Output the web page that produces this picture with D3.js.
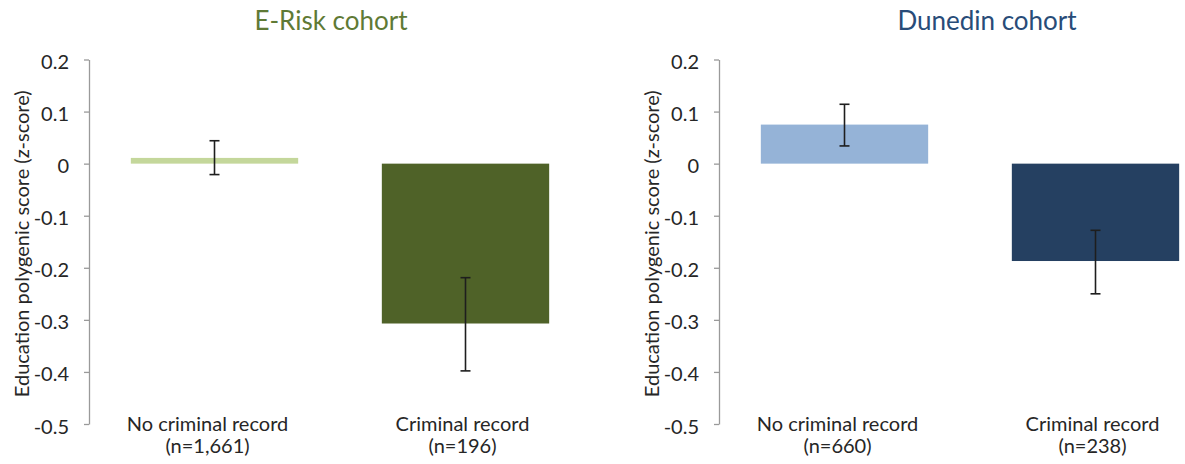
<!DOCTYPE html>
<html><head><meta charset="utf-8">
<script src="https://cdn.jsdelivr.net/npm/d3@7"></script>
<style>
body{margin:0;background:#fff}
svg{display:block}
text{font-family:Lato,"Open Sans",sans-serif}
</style>
</head><body>
<svg id="c" width="1185" height="464"></svg>
<script>
// ---- data ----
const categories = ["No criminal record", "Criminal record"];
const eriskN = ["(n=1,661)", "(n=196)"];
const dunedinN = ["(n=660)", "(n=238)"];
const eriskMean = [0.011, -0.307];
const eriskLower = [-0.021, -0.398];
const eriskUpper = [0.044, -0.219];
const dunedinMean = [0.075, -0.187];
const dunedinLower = [0.034, -0.250];
const dunedinUpper = [0.114, -0.128];
const yTicks = [0.2, 0.1, 0, -0.1, -0.2, -0.3, -0.4, -0.5];
const titles = ["E-Risk cohort", "Dunedin cohort"];
const yLabel = "Education polygenic score (z-score)";

// ---- layout ----
const svg = d3.select("#c");
const panels = [
  {title: titles[0], n: eriskN, mean: eriskMean, lo: eriskLower, hi: eriskUpper,
   axisX: 89, endX: 591, titleX: 331, labelX: 21,
   colors: ["#c4d79b", "#4f6228"], titleColor: "#5f7a35"},
  {title: titles[1], n: dunedinN, mean: dunedinMean, lo: dunedinLower, hi: dunedinUpper,
   axisX: 719, endX: 1221, titleX: 987, labelX: 651,
   colors: ["#95b3d7", "#254061"], titleColor: "#284c78"}
];

const y = d3.scaleLinear().domain([-0.5, 0.2]).range([424, 59.5]);
const fmt = d => Math.abs(d) < 1e-9 ? "0" : d.toFixed(1);

panels.forEach(p => {
  const g = svg.append("g");
  const x = d3.scaleBand().domain(categories).range([p.axisX, p.endX])
    .paddingInner(1/3).paddingOuter(1/6);

  // title
  g.append("text").attr("x", p.titleX).attr("y", 30)
    .attr("text-anchor", "middle").attr("font-size", 26)
    .attr("fill", p.titleColor).text(p.title);

  // y axis
  const ax = g.append("g").attr("transform", `translate(${p.axisX},0)`)
    .call(d3.axisLeft(y).tickValues(yTicks).tickFormat(fmt).tickSize(5).tickSizeOuter(0).tickPadding(15));
  ax.select(".domain").attr("stroke", "#9a9a9a").attr("stroke-width", 1.3);
  ax.selectAll(".tick line").attr("stroke", "#9a9a9a").attr("stroke-width", 1.3);
  ax.selectAll(".tick text").attr("font-size", 20).attr("fill", "#262626")
    .attr("font-family", "Lato,'Open Sans',sans-serif").attr("dy", "0.45em");

  // y label
  g.append("text")
    .attr("transform", `translate(${p.labelX},${(y(0.2)+y(-0.5))/2 + 2}) rotate(-90)`)
    .attr("text-anchor", "middle").attr("dominant-baseline", "central")
    .attr("font-size", 20).attr("fill", "#262626").text(yLabel);

  // bars
  g.selectAll("rect.bar").data(categories).join("rect").attr("class", "bar")
    .attr("x", d => x(d)).attr("width", x.bandwidth())
    .attr("y", (d, i) => y(Math.max(0, p.mean[i])))
    .attr("height", (d, i) => Math.abs(y(p.mean[i]) - y(0)))
    .attr("fill", (d, i) => p.colors[i]);

  // error bars
  const eb = g.selectAll("g.err").data(categories).join("g").attr("class", "err")
    .attr("stroke", "#1e1e1e").attr("stroke-width", 1.6);
  eb.append("line")
    .attr("x1", d => x(d) + x.bandwidth()/2).attr("x2", d => x(d) + x.bandwidth()/2)
    .attr("y1", (d, i) => y(p.hi[i])).attr("y2", (d, i) => y(p.lo[i]));
  eb.append("line")
    .attr("x1", d => x(d) + x.bandwidth()/2 - 5).attr("x2", d => x(d) + x.bandwidth()/2 + 5)
    .attr("y1", (d, i) => y(p.hi[i])).attr("y2", (d, i) => y(p.hi[i]));
  eb.append("line")
    .attr("x1", d => x(d) + x.bandwidth()/2 - 5).attr("x2", d => x(d) + x.bandwidth()/2 + 5)
    .attr("y1", (d, i) => y(p.lo[i])).attr("y2", (d, i) => y(p.lo[i]));

  // category labels
  const cl = g.selectAll("text.cat").data(categories).join("text").attr("class", "cat")
    .attr("x", (d, i) => x(d) + x.bandwidth()/2 + (i === 0 ? -7 : -3))
    .attr("y", 431).attr("text-anchor", "middle")
    .attr("font-size", 20).attr("fill", "#262626");
  cl.append("tspan").text(d => d);
  cl.append("tspan").attr("x", (d, i) => x(d) + x.bandwidth()/2 + (i === 0 ? -7 : -3))
    .attr("dy", 22).text((d, i) => p.n[i]);
});
</script>
</body></html>
